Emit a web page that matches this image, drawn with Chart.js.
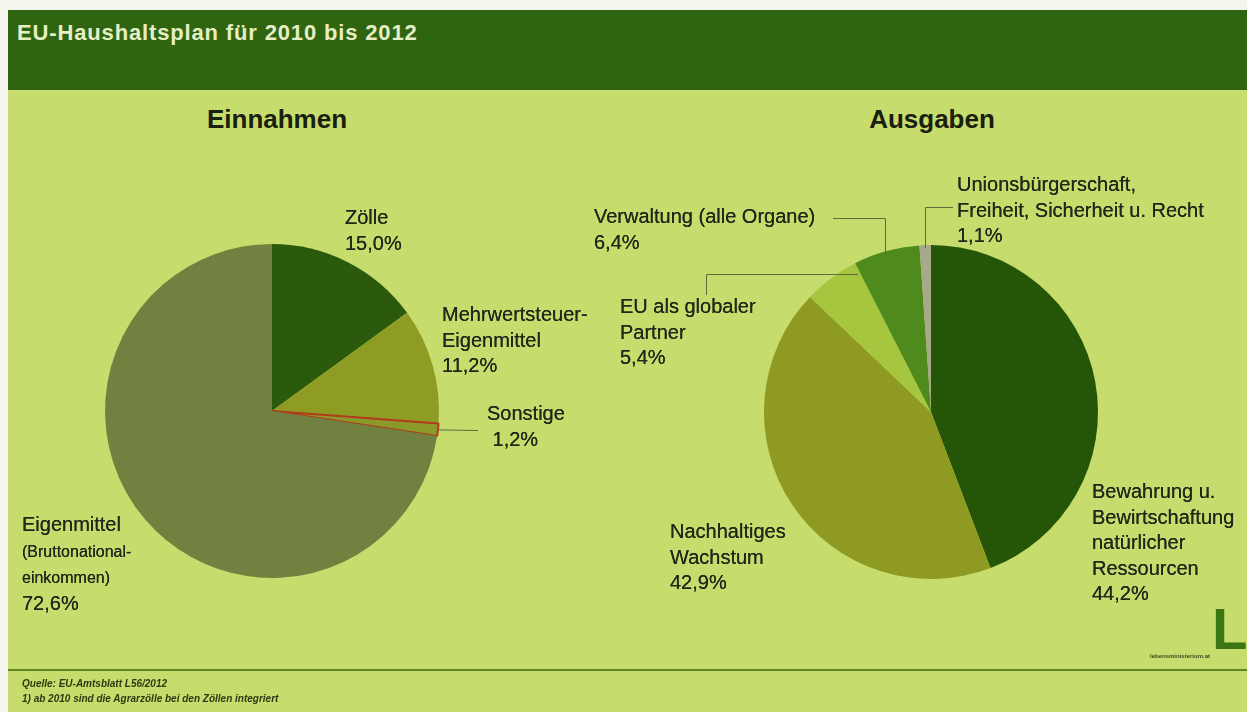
<!DOCTYPE html>
<html lang="de">
<head>
<meta charset="utf-8">
<title>EU-Haushaltsplan für 2010 bis 2012</title>
<script src="https://cdn.jsdelivr.net/npm/chart.js@4/dist/chart.umd.min.js"></script>
<style>
  html, body { margin: 0; padding: 0; }
  body { width: 1247px; height: 712px; background: #f4f6ee; position: relative; overflow: hidden;
         font-family: "Liberation Sans", Arial, sans-serif; color: #2a2d18; }
  #panel { position: absolute; left: 8px; top: 10px; width: 1239px; height: 702px; background: #c6dc6c; }
  #header { position: absolute; left: 8px; top: 10px; width: 1239px; height: 80px; background: #2f6511; }
  #title { position: absolute; left: 17px; top: 20px; font-size: 22px; letter-spacing: 0.85px; font-weight: bold; color: #e6efc4; }
  .box { position: absolute; top: 90px; height: 570px; }
  .head { position: absolute; font-size: 26px; font-weight: bold; color: #1a2010; transform: translateX(-50%); top: 104px; }
  .lbl { position: absolute; font-size: 20px; line-height: 25.5px; white-space: nowrap; color: #23271a;
         text-shadow: 0 0 0.6px #23271a; }
  .sm { font-size: 16px; }
  #rule { position: absolute; left: 8px; top: 669px; width: 1239px; height: 2px; background: #5f8528; }
  .foot { position: absolute; left: 22px; font-size: 10px; font-style: italic; font-weight: bold; color: #2c3a12; }
  #logo { position: absolute; left: 1212px; top: 600px; font-size: 58px; font-weight: bold; color: #3a7614; line-height: 58px; }
  #logotxt { position: absolute; left: 1150px; top: 653px; font-size: 6px; font-weight: bold; color: #3d4a22; }
  #lines { position: absolute; left: 0; top: 0; }
</style>
</head>
<body>
<div id="panel"></div>
<div id="header"></div>
<div id="title">EU-Haushaltsplan für 2010 bis 2012</div>

<div class="head" style="left:277px">Einnahmen</div>
<div class="head" style="left:932px">Ausgaben</div>

<div class="box" style="left:0; width:620px"><canvas id="einnahmen" width="620" height="570"></canvas></div>
<div class="box" style="left:620px; width:627px"><canvas id="ausgaben" width="627" height="570"></canvas></div>
<canvas id="lines" width="1247" height="712"></canvas>

<div class="lbl" style="left:345px; top:205px">Zölle<br>15,0%</div>
<div class="lbl" style="left:442px; top:302px">Mehrwertsteuer-<br>Eigenmittel<br>11,2%</div>
<div class="lbl" style="left:487px; top:401px">Sonstige<br>&nbsp;1,2%</div>
<div class="lbl" style="left:22px; top:512px">Eigenmittel<br><span class="sm">(Bruttonational-<br>einkommen)</span><br>72,6%</div>

<div class="lbl" style="left:594px; top:204px">Verwaltung (alle Organe)<br>6,4%</div>
<div class="lbl" style="left:957px; top:172px">Unionsbürgerschaft,<br>Freiheit, Sicherheit u. Recht<br>1,1%</div>
<div class="lbl" style="left:620px; top:294px">EU als globaler<br>Partner<br>5,4%</div>
<div class="lbl" style="left:670px; top:519px">Nachhaltiges<br>Wachstum<br>42,9%</div>
<div class="lbl" style="left:1092px; top:479px">Bewahrung u.<br>Bewirtschaftung<br>natürlicher<br>Ressourcen<br>44,2%</div>

<div id="rule"></div>
<div class="foot" style="top:678px">Quelle: EU-Amtsblatt L56/2012</div>
<div class="foot" style="top:693px">1) ab 2010 sind die Agrarzölle bei den Zöllen integriert</div>
<div id="logo">L</div>
<div id="logotxt">lebensministerium.at</div>

<script>
// Einnahmen (Anteile in %)
var einCats   = ['Zölle', 'Mehrwertsteuer-Eigenmittel', 'Sonstige', 'Eigenmittel (Bruttonationaleinkommen)'];
var einValues = [15.0, 11.2, 1.2, 72.6];
var einColors = ['#2b5a0c', '#8f9c24', '#8a9a2a', '#718240'];

// Ausgaben (Anteile in %)
var ausCats   = ['Bewahrung u. Bewirtschaftung natürlicher Ressourcen', 'Nachhaltiges Wachstum',
                 'EU als globaler Partner', 'Verwaltung (alle Organe)',
                 'Unionsbürgerschaft, Freiheit, Sicherheit u. Recht'];
var ausValues = [44.2, 42.9, 5.4, 6.4, 1.1];
var ausColors = ['#255607', '#8e9a22', '#a6c640', '#4f8a1c', '#a7a98a'];

var charts = {};

function drawPie(id, cats, values, colors, pad, borders) {
    var ctx = document.getElementById(id);
    charts[id] = new Chart(ctx, {
        type: 'pie',
        data: {
            labels: cats,
            datasets: [{
                data: values,
                backgroundColor: colors,
                borderColor: borders ? borders.color : colors,
                borderWidth: borders ? borders.width : 0
            }]
        },
        options: {
            responsive: false,
            animation: false,
            layout: { padding: pad },
            plugins: { legend: { display: false }, tooltip: { enabled: false } }
        }
    });
}

drawPie('einnahmen', einCats, einValues, einColors,
        { left: 104, right: 180, top: 153, bottom: 81 },
        { color: ['rgba(0,0,0,0)', 'rgba(0,0,0,0)', '#b23a1c', 'rgba(0,0,0,0)'], width: [0, 0, 2, 0] });
drawPie('ausgaben', ausCats, ausValues, ausColors,
        { left: 144, right: 149, top: 155, bottom: 81 });

// leader lines from the labels to the pie edges
function pieGeom(id, offX) {
    var arc = charts[id].getDatasetMeta(0).data[0];
    return { x: arc.x + offX, y: arc.y + 90, r: arc.outerRadius };
}

function leaders() {
    var c = document.getElementById('lines').getContext('2d');
    c.strokeStyle = '#5d6b3e';
    c.lineWidth = 1;
    var L = pieGeom('einnahmen', 0);
    var R = pieGeom('ausgaben', 620);

    // Sonstige: middle of the slice at the rim -> label
    var a = (15.0 + 11.2 + 0.6) / 100 * 2 * Math.PI;
    c.beginPath();
    c.moveTo(L.x + L.r * Math.sin(a), L.y - L.r * Math.cos(a));
    c.lineTo(478, 430.5);
    c.stroke();

    // vertical drop onto the circle at x
    function edgeY(g, x) { return g.y - Math.sqrt(g.r * g.r - (x - g.x) * (x - g.x)); }

    c.beginPath();
    c.moveTo(833, 218.5); c.lineTo(885.5, 218.5); c.lineTo(885.5, edgeY(R, 885.5) + 4);
    c.stroke();

    c.beginPath();
    c.moveTo(953, 207.5); c.lineTo(925.5, 207.5); c.lineTo(925.5, edgeY(R, 925.5) + 3);
    c.stroke();

    c.beginPath();
    c.moveTo(706.5, 295); c.lineTo(706.5, 274.5); c.lineTo(858, 274.5);
    c.stroke();
}
leaders();
</script>
</body>
</html>
